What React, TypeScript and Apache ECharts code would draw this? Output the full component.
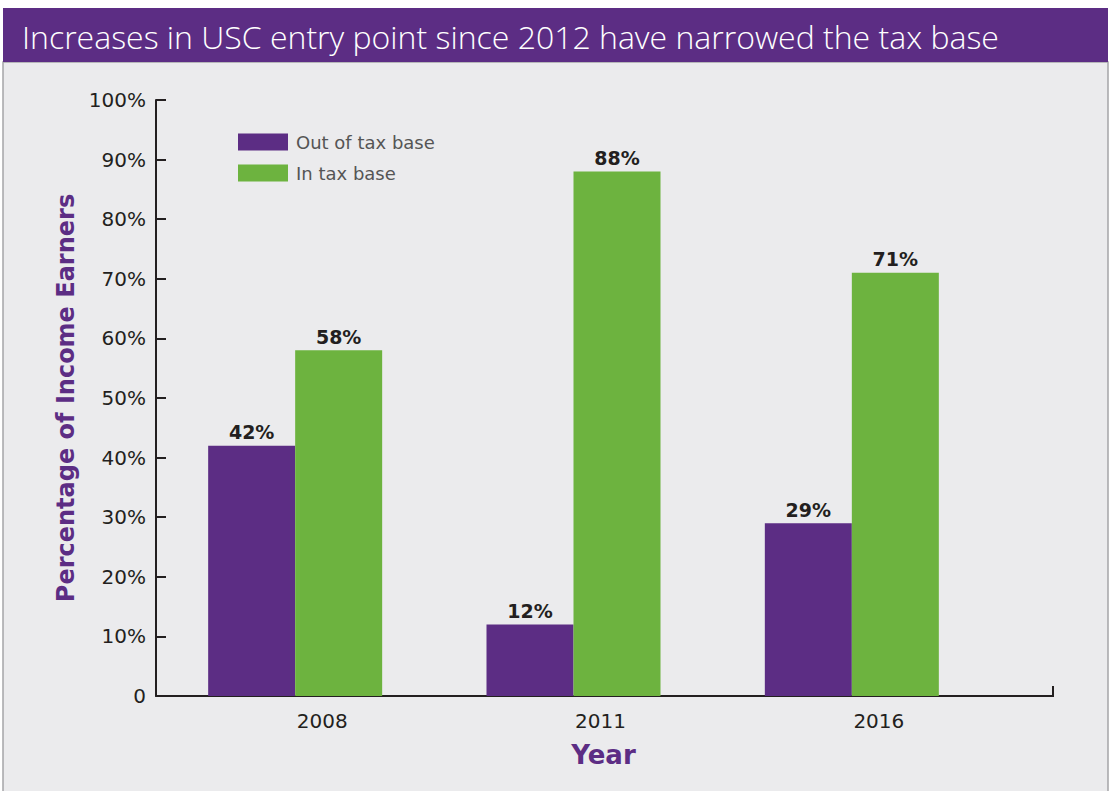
import React, { useEffect, useRef } from "react";
import * as echarts from "echarts";

const TITLE = "Increases in USC entry point since 2012 have narrowed the tax base";
const categories = ["2008", "2011", "2016"];
const outOfTaxBase = [42, 12, 29];
const inTaxBase = [58, 88, 71];
const seriesNames = ["Out of tax base", "In tax base"];
const yTicks = { min: 0, max: 100, interval: 10 };

const PURPLE = "#5c2d84";
const GREEN = "#6db33f";
const DARK = "#231f20";
const FONT = "'DejaVu Sans', 'Noto Sans', sans-serif";

export default function App() {
  const ref = useRef<HTMLDivElement>(null);
  useEffect(() => {
    document.body.style.margin = "0";
    const chart = echarts.init(ref.current!, null, { renderer: "svg" });
    const gridLeft = 156;
    const gridTop = 100;
    const gridW = 835;
    const gridH = 596;
    const axisY = gridTop + gridH;
    const barLabel = {
      show: true,
      position: "top",
      distance: 4,
      formatter: "{c}%",
      color: DARK,
      fontSize: 19,
      fontWeight: "bold",
      fontFamily: FONT,
    };
    chart.setOption({
      animation: false,
      backgroundColor: "#ffffff",
      textStyle: { fontFamily: FONT },
      graphic: [
        {
          type: "rect",
          z: -10,
          shape: { x: 3, y: 62, width: 1105, height: 740 },
          style: { fill: "#ebebed", stroke: "#a5a5a8", lineWidth: 1.5 },
        },
        {
          type: "rect",
          z: -9,
          shape: { x: 3, y: 8, width: 1105, height: 54 },
          style: { fill: PURPLE },
        },
        {
          type: "text",
          x: 22,
          y: 36,
          style: {
            text: TITLE,
            fill: "#ffffff",
            font: "300 32px 'Open Sans', 'Noto Sans', sans-serif",
            verticalAlign: "middle",
          },
        },
        {
          type: "line",
          shape: { x1: gridLeft + gridW - 1, y1: axisY, x2: 1054, y2: axisY },
          style: { stroke: DARK, lineWidth: 2 },
        },
        {
          type: "line",
          shape: { x1: 1053, y1: axisY + 1, x2: 1053, y2: axisY - 10 },
          style: { stroke: DARK, lineWidth: 2 },
        },
      ],
      legend: {
        left: 238,
        top: 133,
        padding: 0,
        orient: "vertical",
        itemWidth: 50,
        itemHeight: 17,
        itemGap: 13,
        icon: "rect",
        textStyle: { color: "#555555", fontSize: 18, fontFamily: FONT, padding: [0, 0, 0, 3] },
        data: seriesNames,
      },
      grid: { left: gridLeft, top: gridTop, width: gridW, height: gridH },
      xAxis: {
        type: "category",
        data: categories,
        axisLine: { lineStyle: { color: DARK, width: 2 } },
        axisTick: { show: false },
        axisLabel: {
          color: DARK,
          fontSize: 20,
          margin: 15,
          fontFamily: FONT,
          padding: [0, 0, 0, 54],
        },
        name: "Year",
        nameLocation: "middle",
        nameGap: 46,
        nameTextStyle: {
          color: PURPLE,
          fontSize: 26,
          fontWeight: "bold",
          fontFamily: FONT,
          padding: [0, 0, 0, 60],
        },
      },
      yAxis: {
        type: "value",
        min: yTicks.min,
        max: yTicks.max,
        interval: yTicks.interval,
        splitLine: { show: false },
        axisLine: { show: true, lineStyle: { color: DARK, width: 2 } },
        axisTick: { show: true, inside: true, length: 10, lineStyle: { color: DARK, width: 2 } },
        axisLabel: {
          color: DARK,
          fontSize: 20,
          margin: 10,
          fontFamily: FONT,
          formatter: (v: number) => (v === 0 ? "0" : v + "%"),
        },
        name: "Percentage of Income Earners",
        nameLocation: "middle",
        nameGap: 77,
        nameTextStyle: { color: PURPLE, fontSize: 24, fontWeight: "bold", fontFamily: FONT },
      },
      series: [
        {
          name: seriesNames[0],
          type: "bar",
          data: outOfTaxBase,
          barWidth: 87,
          barGap: "0%",
          itemStyle: { color: PURPLE },
          label: barLabel,
        },
        {
          name: seriesNames[1],
          type: "bar",
          data: inTaxBase,
          barWidth: 87,
          barGap: "0%",
          itemStyle: { color: GREEN },
          label: barLabel,
        },
      ],
    });
    return () => chart.dispose();
  }, []);
  return <div ref={ref} style={{ width: 1110, height: 791 }} />;
}
